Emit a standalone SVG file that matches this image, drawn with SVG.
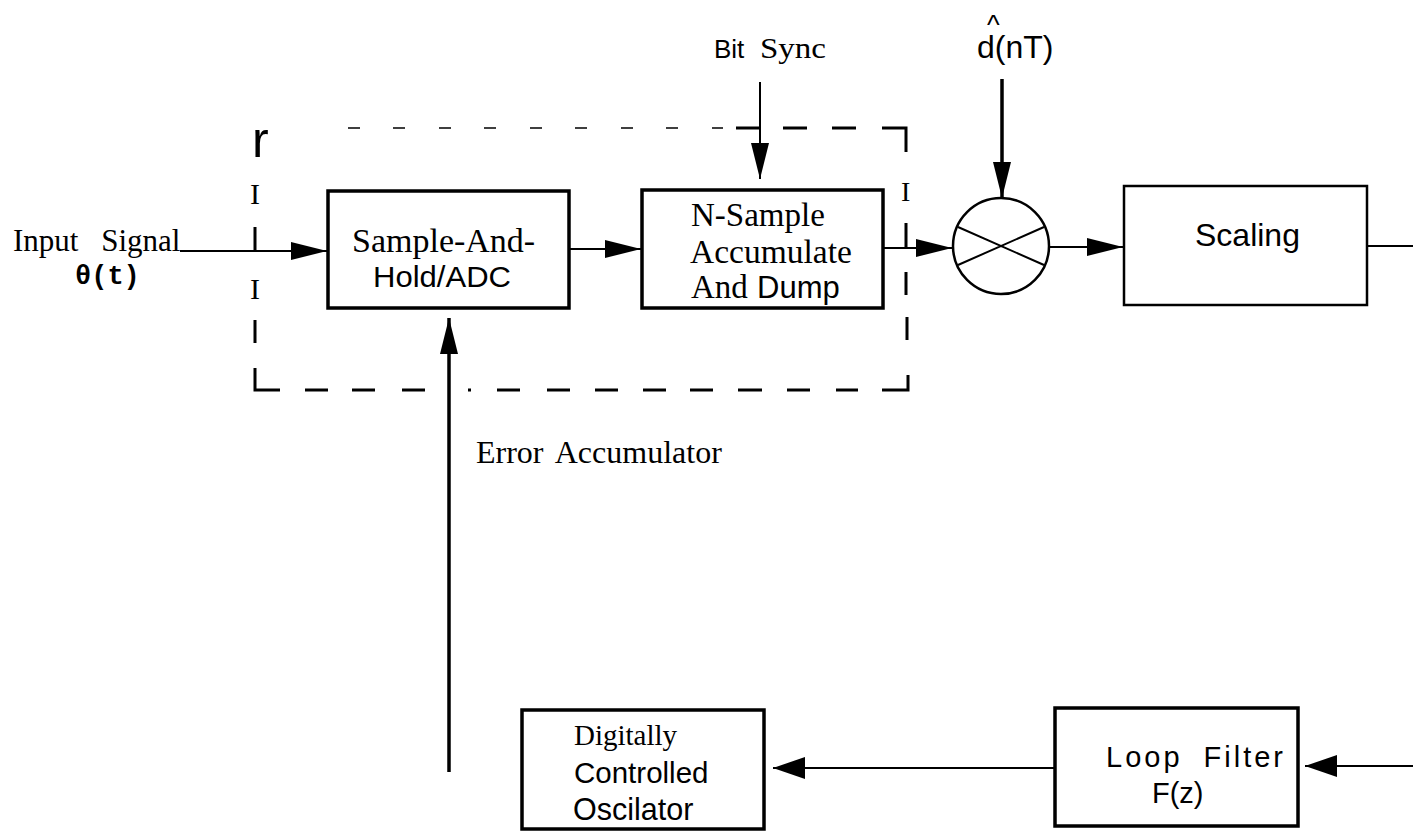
<svg xmlns="http://www.w3.org/2000/svg" width="1413" height="836" viewBox="0 0 1413 836">
  <style>
    .box { fill: none; stroke: #000; stroke-width: 3.5; }
    .thin-box { fill: none; stroke: #000; stroke-width: 2.5; }
    .wire { fill: none; stroke: #000; stroke-width: 2; }
    .wire-bold { fill: none; stroke: #000; stroke-width: 3.5; }
    .dash-thin { fill: none; stroke: #000; stroke-width: 1.5; }
    .dash-bold { fill: none; stroke: #000; stroke-width: 3; }
    .serif { font-family: "Liberation Serif", "Times New Roman", serif; fill: #000; }
    .sans { font-family: "Liberation Sans", Arial, sans-serif; fill: #000; }
    .mono { font-family: "Liberation Mono", "Courier New", monospace; fill: #000; font-weight: bold; }
  </style>
  <defs>
    <marker id="arrow" markerUnits="userSpaceOnUse" markerWidth="36" markerHeight="18" refX="36" refY="9" orient="auto">
      <path d="M0,0 L36,9 L0,18 Z" fill="#000"/>
    </marker>
    <marker id="arrow-wide" markerUnits="userSpaceOnUse" markerWidth="32" markerHeight="22" refX="32" refY="11" orient="auto">
      <path d="M0,0 L32,11 L0,22 Z" fill="#000"/>
    </marker>
  </defs>

  <!-- dashed enclosure of the error accumulator -->
  <g id="error-accumulator">
    <text class="sans" x="252" y="157" font-size="50">r</text>
    <!-- top edge -->
    <path class="dash-thin" d="M348,128 H360 M393,128 H405 M439,128 H451 M484,128 H496 M530,128 H542 M575,128 H587 M621,128 H633 M666,128 H678 M712,128 H723"/>
    <path class="dash-bold" d="M736,128 H760 M783,128 H807 M832,128 H856 M882,128 H906 V152"/>
    <!-- left edge -->
    <text class="serif" x="250" y="204" font-size="30">I</text>
    <path class="dash-bold" d="M255,227 V250 M255,320 V343 M255,368 V390 H280"/>
    <text class="serif" x="250" y="299" font-size="30">I</text>
    <!-- bottom edge -->
    <path class="dash-bold" d="M305,390 H328 M352,390 H375 M402,390 H425 M468,390 H471 M497,390 H520 M547,390 H570 M595,390 H618 M643,390 H666 M690,390 H713 M738,390 H762 M787,390 H810 M836,390 H858 M882,390 H908 V375"/>
    <!-- right edge -->
    <text class="serif" x="901" y="201" font-size="28">I</text>
    <path class="dash-bold" d="M906,223 V247 M906,272 V295 M907,317 V340"/>
    <text class="serif" x="476" y="463" font-size="32" word-spacing="5">Error Accumulator</text>
  </g>

  <g id="sample-and-hold">
    <rect class="box" x="328" y="191" width="241" height="117"/>
    <text class="serif" x="352" y="252" font-size="34">Sample-And-</text>
    <text class="sans" x="373" y="287" font-size="29" textLength="138" lengthAdjust="spacingAndGlyphs">Hold/ADC</text>
  </g>

  <g id="n-sample-accumulate">
    <rect class="box" x="642" y="190" width="241" height="118"/>
    <text class="serif" x="691" y="226" font-size="33">N-Sample</text>
    <text class="serif" x="690" y="263" font-size="33.5">Accumulate</text>
    <text x="691" y="298"><tspan class="serif" font-size="33">And</tspan><tspan class="sans" x="757" font-size="31">Dump</tspan></text>
  </g>

  <g id="bit-sync">
    <text x="714" y="58"><tspan class="sans" font-size="26">Bit</tspan><tspan class="serif" x="760" font-size="29" textLength="66" lengthAdjust="spacingAndGlyphs">Sync</tspan></text>
  </g>

  <g id="data-estimate">
    <text class="sans" x="977" y="58" font-size="32">d(nT)<tspan x="987" y="34" font-size="27">^</tspan></text>
  </g>

  <g id="multiplier">
    <circle cx="1001" cy="246" r="48" fill="none" stroke="#000" stroke-width="2.5"/>
    <path class="wire" stroke-width="2.8" d="M958,227 L1044,265 M958,265 L1044,227"/>
  </g>

  <g id="scaling">
    <rect class="thin-box" x="1124" y="186" width="243" height="119"/>
    <text class="sans" x="1195" y="246" font-size="32">Scaling</text>
  </g>

  <g id="input-signal">
    <text class="serif" x="13" y="251" font-size="31" word-spacing="15">Input Signal</text>
    <text class="mono" x="75" y="284" font-size="27">θ(t)</text>
  </g>

  <g id="dco">
    <rect class="box" x="522" y="710" width="242" height="119"/>
    <text class="serif" x="574" y="745" font-size="29">Digitally</text>
    <text class="sans" x="574" y="783" font-size="29.5">Controlled</text>
    <text class="sans" x="573" y="820" font-size="30.5">Oscilator</text>
  </g>

  <g id="loop-filter">
    <rect class="box" x="1055" y="708" width="243" height="118"/>
    <text class="sans" x="1106" y="767" font-size="29" letter-spacing="3" word-spacing="10">Loop Filter</text>
    <text class="sans" x="1152" y="803" font-size="29">F(z)</text>
  </g>

  <g id="connectors">
    <path class="wire" d="M180,251 H327" marker-end="url(#arrow)"/>
    <path class="wire" d="M569,249 H641" marker-end="url(#arrow)"/>
    <path class="wire" d="M883,248 H952" marker-end="url(#arrow)"/>
    <path class="wire" d="M760,82 V179" marker-end="url(#arrow)"/>
    <path class="wire-bold" d="M1002,79 V198" marker-end="url(#arrow)"/>
    <path class="wire" d="M1049,247 H1123" marker-end="url(#arrow)"/>
    <path class="wire" d="M1367,246 H1413"/>
    <path class="wire-bold" d="M449,772 V318" marker-end="url(#arrow)"/>
    <path class="wire" d="M1055,768 H773" marker-end="url(#arrow-wide)"/>
    <path class="wire" d="M1413,766 H1305" marker-end="url(#arrow-wide)"/>
  </g>
</svg>
